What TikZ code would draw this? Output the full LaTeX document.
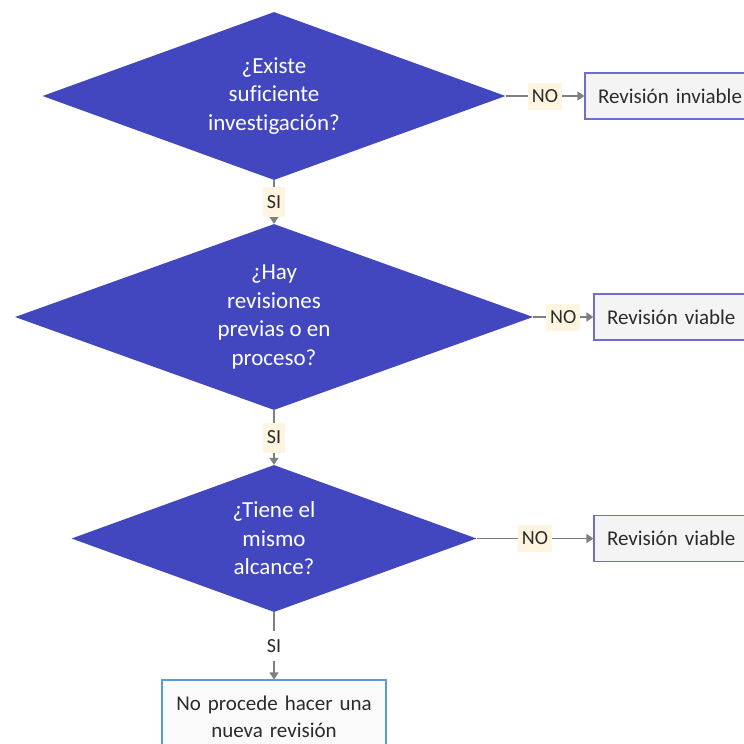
\documentclass[tikz,border=0pt]{standalone}
\usepackage{fontspec}
\setmainfont{Carlito}[Ligatures=NoCommon]
\usetikzlibrary{shapes,arrows,arrows.meta}
\definecolor{decfill}{HTML}{4347BF}
\definecolor{boxline}{HTML}{6E6ED2}
\definecolor{endline}{HTML}{5B9BD5}
\definecolor{boxfill}{HTML}{F4F4F4}
\definecolor{tagfill}{HTML}{FFF4DF}
\definecolor{linkgray}{HTML}{7F7F7F}
\definecolor{txtgray}{HTML}{2B2B2B}
\tikzstyle{decision} = [diamond, aspect=2.77, fill=decfill, text=white, inner sep=0pt,
    align=center, font=\fontsize{23}{28.5}\selectfont]
\tikzstyle{result} = [draw=boxline, line width=1.2pt, fill=boxfill, text=txtgray, rectangle,
    minimum height=46pt, inner xsep=13pt, text width=149pt, align=left, font=\fontsize{21}{27}\selectfont]
\tikzstyle{tag} = [fill=tagfill, text=txtgray, inner xsep=4pt, inner ysep=0pt,
    minimum height=27pt, font=\fontsize{20}{24}\selectfont]
\tikzstyle{link} = [draw=linkgray, line width=1.3pt]

\begin{document}
\begin{tikzpicture}[x=1pt, y=-1pt, >={Triangle[width=9pt,length=7pt]}, node distance=221pt]
    \useasboundingbox (0,0) rectangle (744,744);
    \node [decision, minimum width=463pt, minimum height=168pt] (existe) at (274,96) {¿Existe\\suficiente\\investigación?};
    \node [decision, below of=existe, minimum width=518pt, minimum height=186pt] (previas) {¿Hay\\revisiones\\previas o en\\proceso?};
    \draw [link,->] (existe) -- node[tag, minimum height=30pt] {SI} (previas);
    \node [decision, below of=previas, node distance=221.5pt, minimum width=405pt, minimum height=147pt] (alcance) {¿Tiene el\\mismo\\alcance?};
    \draw [link,->] (previas) -- node[tag, minimum height=30pt] {SI} (alcance);
    \node [result, right of=existe, node distance=398.5pt] (inviable) {Revisión inviable};
    \draw [link,->] (existe) -- node[tag] {NO} (inviable);
    \node [result, right of=previas, node distance=407.5pt] (viable) {Revisión viable};
    \draw [link,->] (previas) -- node[tag] {NO} (viable);
    \node [result, right of=alcance, node distance=407.5pt] (mismoviable) {Revisión viable};
    \draw [link,->] (alcance) -- node[tag] {NO} (mismoviable);
    \node [result, below of=alcance, node distance=178pt, draw=endline, fill=white!50!boxfill,
        text width=198pt, align=center, minimum height=73pt] (noprocede) {No procede hacer una\\nueva revisión};
    \draw [link,->] (alcance) -- node[tag, fill=white, minimum height=30pt] {SI} (noprocede);
\end{tikzpicture}
\end{document}
